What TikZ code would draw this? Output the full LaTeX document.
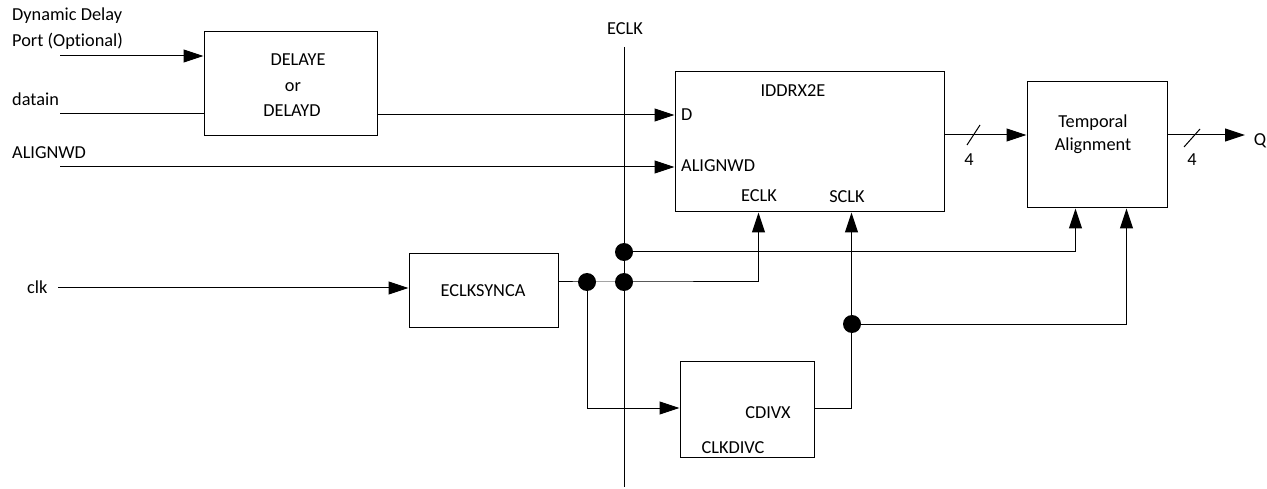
\documentclass[tikz,border=0pt]{standalone}
\usepackage{fontspec}
\setmainfont[Ligatures={NoCommon}]{Carlito}
\usetikzlibrary{arrows.meta}
\begin{document}
\begin{tikzpicture}[x=1pt,y=-1pt,
  every node/.style={font=\fontsize{18.3}{22}\selectfont},
  box/.style={draw,line width=1pt,inner sep=0pt,rectangle},
  txt/.style={inner sep=0pt,anchor=base},
  txtl/.style={inner sep=0pt,anchor=base west},
  wire/.style={line width=1pt},
  arr/.style={wire,-{Triangle[length=20pt,width=13pt]}},
  dot/.style={fill=black}
]
\useasboundingbox (0,0) rectangle (1267,489);

% boxes
\node[box,minimum width=173pt,minimum height=104pt] (delay) at (290.5,84) {};
\node[box,minimum width=269pt,minimum height=140pt] (iddr) at (809.5,142) {};
\node[box,minimum width=140pt,minimum height=126pt] (temporal) at (1097,145) {};
\node[box,minimum width=149pt,minimum height=73pt] (eclksync) at (483.5,290.5) {};
\node[box,minimum width=134pt,minimum height=96pt] (clkdiv) at (747,409) {};

% texts
\node[txtl] (tdyn1) at (12,21) {Dynamic Delay};
\node[txtl] (tdyn2) at (12,46.5) {Port (Optional)};
\node[txtl] (tdatain) at (12,106) {datain};
\node[txtl] (talign) at (12,159) {ALIGNWD};
\node[txtl] (tclk) at (27,294) {clk};
\node[txt] (tdelaye) at (298,66) {DELAYE};
\node[txt] (tor) at (293,92) {or};
\node[txt] (tdelayd) at (292,117) {DELAYD};
\node[txt] (teclk) at (625,35) {ECLK};
\node[txt] (tiddr) at (793,97) {IDDRX2E};
\node[txtl] (td) at (681,121) {D};
\node[txtl] (talignp) at (681,172) {ALIGNWD};
\node[txt] (teclkp) at (759,202) {ECLK};
\node[txt] (tsclkp) at (847,203) {SCLK};
\node[txt] (ttemp1) at (1093,128) {Temporal};
\node[txt] (ttemp2) at (1093,151) {Alignment};
\node[txt] (tfour1) at (969,166) {4};
\node[txt] (tfour2) at (1192,166) {4};
\node[txt] (tq) at (1260,146) {Q};
\node[txt] (tsync) at (483,297) {ECLKSYNCA};
\node[txt] (tcdivx) at (768,418) {CDIVX};
\node[txt] (tclkdivc) at (733,453) {CLKDIVC};

% coordinates
\coordinate (dynin) at (60,56);
\coordinate (datin) at (60,114);
\coordinate (alin) at (60,167);
\coordinate (clkin) at (58,288);
\coordinate (dpin) at (iddr.west |- 0,115);
\coordinate (eclkT) at (624,47);
\coordinate (eclkB) at (624,487);
\coordinate (j1) at (587,282);
\coordinate (j2) at (624,282);
\coordinate (j3) at (624,252);
\coordinate (j4) at (852,324);
\path (iddr.south west) ++(84,0) coordinate (eclkpin);
\path (iddr.south west) ++(177,0) coordinate (sclkpin);
\path (temporal.south west) ++(49,0) coordinate (tpin1);
\path (temporal.south west) ++(100,0) coordinate (tpin2);
\coordinate (cdin) at (clkdiv.west |- 0,408);
\coordinate (busA) at (iddr.east |- 0,135);
\coordinate (busB) at (temporal.east |- 0,135);
\coordinate (qpt) at (1245,135);

% wires
\draw[arr] (dynin) -- (dynin -| delay.west);
\draw[wire] (datin) -- (datin -| delay.west);
\draw[arr] (delay.east |- dpin) -- (dpin);
\draw[arr] (alin) -- (alin -| iddr.west);
\draw[wire] (eclkT) -- (eclkB);
\draw[arr] (clkin) -- (clkin -| eclksync.west);
\draw[arr] (eclksync.east |- j1) -- (j1) -- (j2) -| (eclkpin);
\draw[arr] (j3) -| (tpin1);
\draw[arr] (j1) |- (cdin);
\draw[arr] (clkdiv.east |- cdin) -| (sclkpin);
\draw[arr] (j4) -| (tpin2);
\draw[arr] (busA) -- (busA -| temporal.west);
\draw[arr] (busB) -- (qpt);
% bus slashes
\draw[wire] (967,145) -- (980,125);
\draw[wire] (1184,147) -- (1200,129);

% junction dots
\fill[dot] (j1) circle (9pt);
\fill[dot] (j2) circle (9pt);
\fill[dot] (j3) circle (9pt);
\fill[dot] (j4) circle (9pt);
\end{tikzpicture}
\end{document}
